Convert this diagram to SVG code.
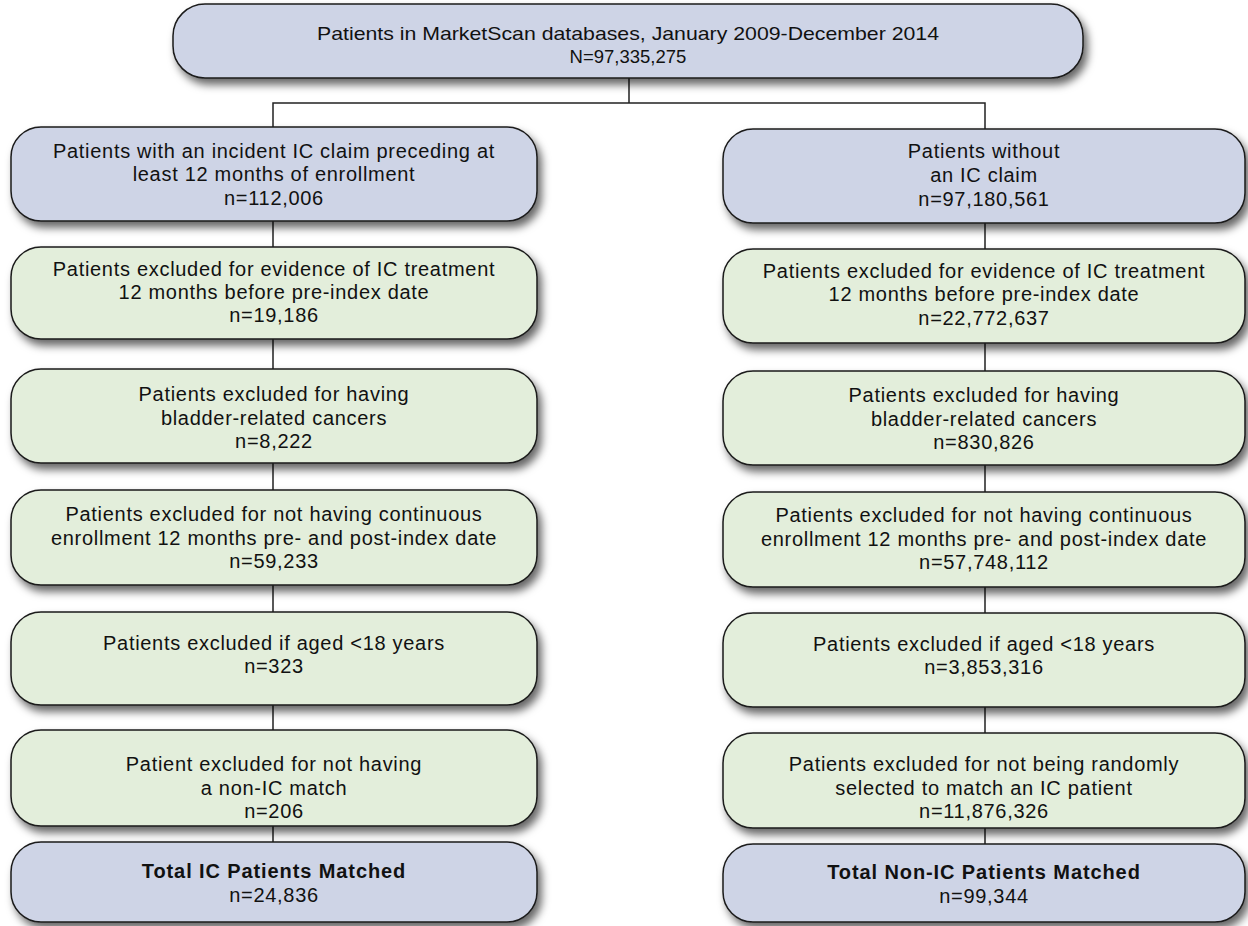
<svg xmlns="http://www.w3.org/2000/svg" width="1248" height="926" viewBox="0 0 1248 926">
<style>
.b{fill:#ced4e6;stroke:#1a1a1a;stroke-width:1.5}
.g{fill:#e3eedb;stroke:#1a1a1a;stroke-width:1.5}
text{font-family:"Liberation Sans",Arial,sans-serif;font-size:20px;letter-spacing:0.7px;fill:#111;text-anchor:middle}
.t{font-size:18.5px;letter-spacing:0}
.bold{font-weight:bold;letter-spacing:0.9px}
.c{stroke:#222;stroke-width:1.5;fill:none}
</style>
<defs>
<filter id="sh" x="-10%" y="-20%" width="125%" height="150%">
<feDropShadow dx="4" dy="6" stdDeviation="4.5" flood-color="#000" flood-opacity="0.6"/>
</filter>
</defs>
<rect width="1248" height="926" fill="#fff"/>
<g id="connectors">
<path class="c" d="M629 78V103M273 127V103H985V129"/>
<path class="c" d="M273 221V247M273 339V369M273 463V490M273 585V612M273 705V730M273 826V842"/>
<path class="c" d="M985 223V249M985 343V371M985 465V492M985 587V613M985 707V733M985 828V844"/>
</g>
<g id="top"><rect class="b" filter="url(#sh)" x="173" y="4" width="910" height="74" rx="32"/>
<text class="t" x="628" y="40" textLength="622" lengthAdjust="spacingAndGlyphs">Patients in MarketScan databases, January 2009-December 2014</text>
<text class="t" x="628" y="63">N=97,335,275</text></g>
<g id="l1"><rect class="b" filter="url(#sh)" x="11" y="127" width="526" height="94" rx="30"/>
<text x="274" y="158">Patients with an incident IC claim preceding at</text>
<text x="274" y="181">least 12 months of enrollment</text>
<text x="274" y="205">n=112,006</text></g>
<g id="l2"><rect class="g" filter="url(#sh)" x="11" y="247" width="526" height="92" rx="30"/>
<text x="274" y="276">Patients excluded for evidence of IC treatment</text>
<text x="274" y="299">12 months before pre-index date</text>
<text x="274" y="322">n=19,186</text></g>
<g id="l3"><rect class="g" filter="url(#sh)" x="11" y="369" width="526" height="94" rx="30"/>
<text x="274" y="401">Patients excluded for having</text>
<text x="274" y="425">bladder-related cancers</text>
<text x="274" y="448">n=8,222</text></g>
<g id="l4"><rect class="g" filter="url(#sh)" x="11" y="490" width="526" height="95" rx="30"/>
<text x="274" y="521">Patients excluded for not having continuous</text>
<text x="274" y="545">enrollment 12 months pre- and post-index date</text>
<text x="274" y="568">n=59,233</text></g>
<g id="l5"><rect class="g" filter="url(#sh)" x="11" y="612" width="526" height="93" rx="30"/>
<text x="274" y="650">Patients excluded if aged &lt;18 years</text>
<text x="274" y="673">n=323</text></g>
<g id="l6"><rect class="g" filter="url(#sh)" x="11" y="730" width="526" height="96" rx="30"/>
<text x="274" y="771">Patient excluded for not having</text>
<text x="274" y="795">a non-IC match</text>
<text x="274" y="818">n=206</text></g>
<g id="l7"><rect class="b" filter="url(#sh)" x="11" y="842" width="526" height="80" rx="30"/>
<text class="bold" x="274" y="878">Total IC Patients Matched</text>
<text x="274" y="902">n=24,836</text></g>
<g id="r1"><rect class="b" filter="url(#sh)" x="723" y="129" width="522" height="94" rx="30"/>
<text x="984" y="158">Patients without</text>
<text x="984" y="182">an IC claim</text>
<text x="984" y="206">n=97,180,561</text></g>
<g id="r2"><rect class="g" filter="url(#sh)" x="723" y="249" width="522" height="94" rx="30"/>
<text x="984" y="278">Patients excluded for evidence of IC treatment</text>
<text x="984" y="301">12 months before pre-index date</text>
<text x="984" y="325">n=22,772,637</text></g>
<g id="r3"><rect class="g" filter="url(#sh)" x="723" y="371" width="522" height="94" rx="30"/>
<text x="984" y="402">Patients excluded for having</text>
<text x="984" y="426">bladder-related cancers</text>
<text x="984" y="449">n=830,826</text></g>
<g id="r4"><rect class="g" filter="url(#sh)" x="723" y="492" width="522" height="95" rx="30"/>
<text x="984" y="522">Patients excluded for not having continuous</text>
<text x="984" y="546">enrollment 12 months pre- and post-index date</text>
<text x="984" y="569">n=57,748,112</text></g>
<g id="r5"><rect class="g" filter="url(#sh)" x="723" y="613" width="522" height="94" rx="30"/>
<text x="984" y="651">Patients excluded if aged &lt;18 years</text>
<text x="984" y="674">n=3,853,316</text></g>
<g id="r6"><rect class="g" filter="url(#sh)" x="723" y="733" width="522" height="95" rx="30"/>
<text x="984" y="771">Patients excluded for not being randomly</text>
<text x="984" y="795">selected to match an IC patient</text>
<text x="984" y="818">n=11,876,326</text></g>
<g id="r7"><rect class="b" filter="url(#sh)" x="723" y="844" width="522" height="78" rx="30"/>
<text class="bold" x="984" y="879">Total Non-IC Patients Matched</text>
<text x="984" y="903">n=99,344</text></g>
</svg>
